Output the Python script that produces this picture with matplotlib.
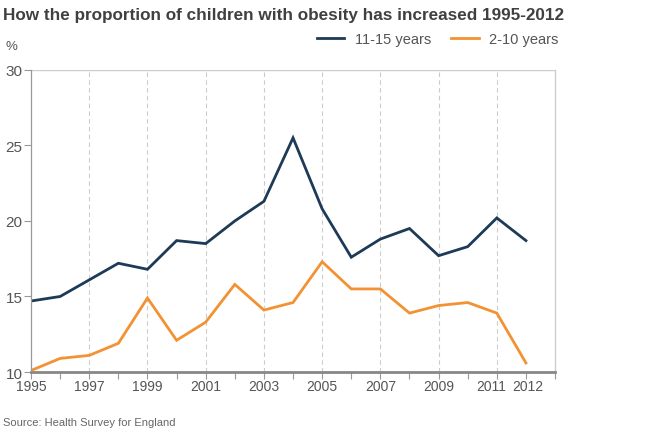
import matplotlib
matplotlib.use("Agg")
import matplotlib.pyplot as plt
from matplotlib.lines import Line2D
import matplotlib.transforms as mtransforms

years = list(range(1995, 2013))
older = [14.7, 15.0, 16.1, 17.2, 16.8, 18.7, 18.5, 20.0, 21.3, 25.5,
         20.8, 17.6, 18.8, 19.5, 17.7, 18.3, 20.2, 18.7]
younger = [10.1, 10.9, 11.1, 11.9, 14.9, 12.1, 13.3, 15.8, 14.1, 14.6,
           17.3, 15.5, 15.5, 13.9, 14.4, 14.6, 13.9, 10.6]
series_names = ["11-15 years", "2-10 years"]
xtick_pos = [1995, 1997, 1999, 2001, 2003, 2005, 2007, 2009, 2011, 2012]
yticks = [10, 15, 20, 25, 30]

plt.rcParams['font.family'] = ['Liberation Sans', 'DejaVu Sans']

navy = "#1d3a57"
orange = "#f39232"
txt = "#555555"

fig = plt.figure(figsize=(6.6, 4.35), dpi=100)
ax = fig.add_axes([0.047, 0.1425, 0.794, 0.6945])

ax.plot(years, older, color=navy, lw=2.0, solid_joinstyle='miter')
ax.plot(years, younger, color=orange, lw=2.0, solid_joinstyle='miter')

ax.set_xlim(1995, 2013)
ax.set_ylim(10, 30)

for y in range(1997, 2012, 2):
    ax.axvline(y, color="#cccccc", lw=0.8, ls=(0, (4, 3)), zorder=0)
ax.axhline(30, color="#cccccc", lw=1.0, zorder=0)

ax.set_xticks(years + [2013])
ax.set_xticklabels([])
ax.set_yticks(yticks)
ax.set_yticklabels([str(v) for v in yticks])

# x labels as text so the crowded 2011/2012 pair can be spaced apart
base = mtransforms.blended_transform_factory(ax.transData, ax.transAxes)
shift = {2011: -4 / 72, 2012: 1.5 / 72}
for yr in xtick_pos:
    tr = base + mtransforms.ScaledTranslation(shift.get(yr, 0) * 0.72 * 100 / 72, 0, fig.dpi_scale_trans)
    ax.text(yr, -0.022, str(yr), transform=tr, ha='center', va='top',
            fontsize=10, color=txt)

ax.tick_params(axis='x', direction='out', length=5, width=0.8, color="#999999")
ax.tick_params(axis='y', direction='out', length=5, width=0.8, color="#999999",
               labelsize=11, labelcolor=txt, pad=1)

ax.spines['top'].set_visible(False)
ax.spines['left'].set_color("#999999")
ax.spines['left'].set_linewidth(0.9)
ax.spines['right'].set_color("#cccccc")
ax.spines['right'].set_linewidth(1.0)
ax.spines['bottom'].set_color("#888888")
ax.spines['bottom'].set_linewidth(2.0)

fig.text(0.005, 0.965, "How the proportion of children with obesity has increased 1995-2012",
         fontsize=12.3, fontweight='bold', color="#404040", va='center', ha='left')
fig.text(0.008, 0.893, "%", fontsize=9.5, color=txt, va='center', ha='left')
fig.text(0.005, 0.028, "Source: Health Survey for England", fontsize=8, color="#666666",
         va='center', ha='left')

handles = [Line2D([0], [0], color=navy, lw=2), Line2D([0], [0], color=orange, lw=2)]
leg = fig.legend(handles, series_names, loc='center right', bbox_to_anchor=(0.855, 0.908),
                 ncol=2, frameon=False, fontsize=10.5, handlelength=1.9, handletextpad=0.7,
                 columnspacing=1.4, borderaxespad=0)
for t in leg.get_texts():
    t.set_color(txt)

fig.savefig("out.png", dpi=100)
